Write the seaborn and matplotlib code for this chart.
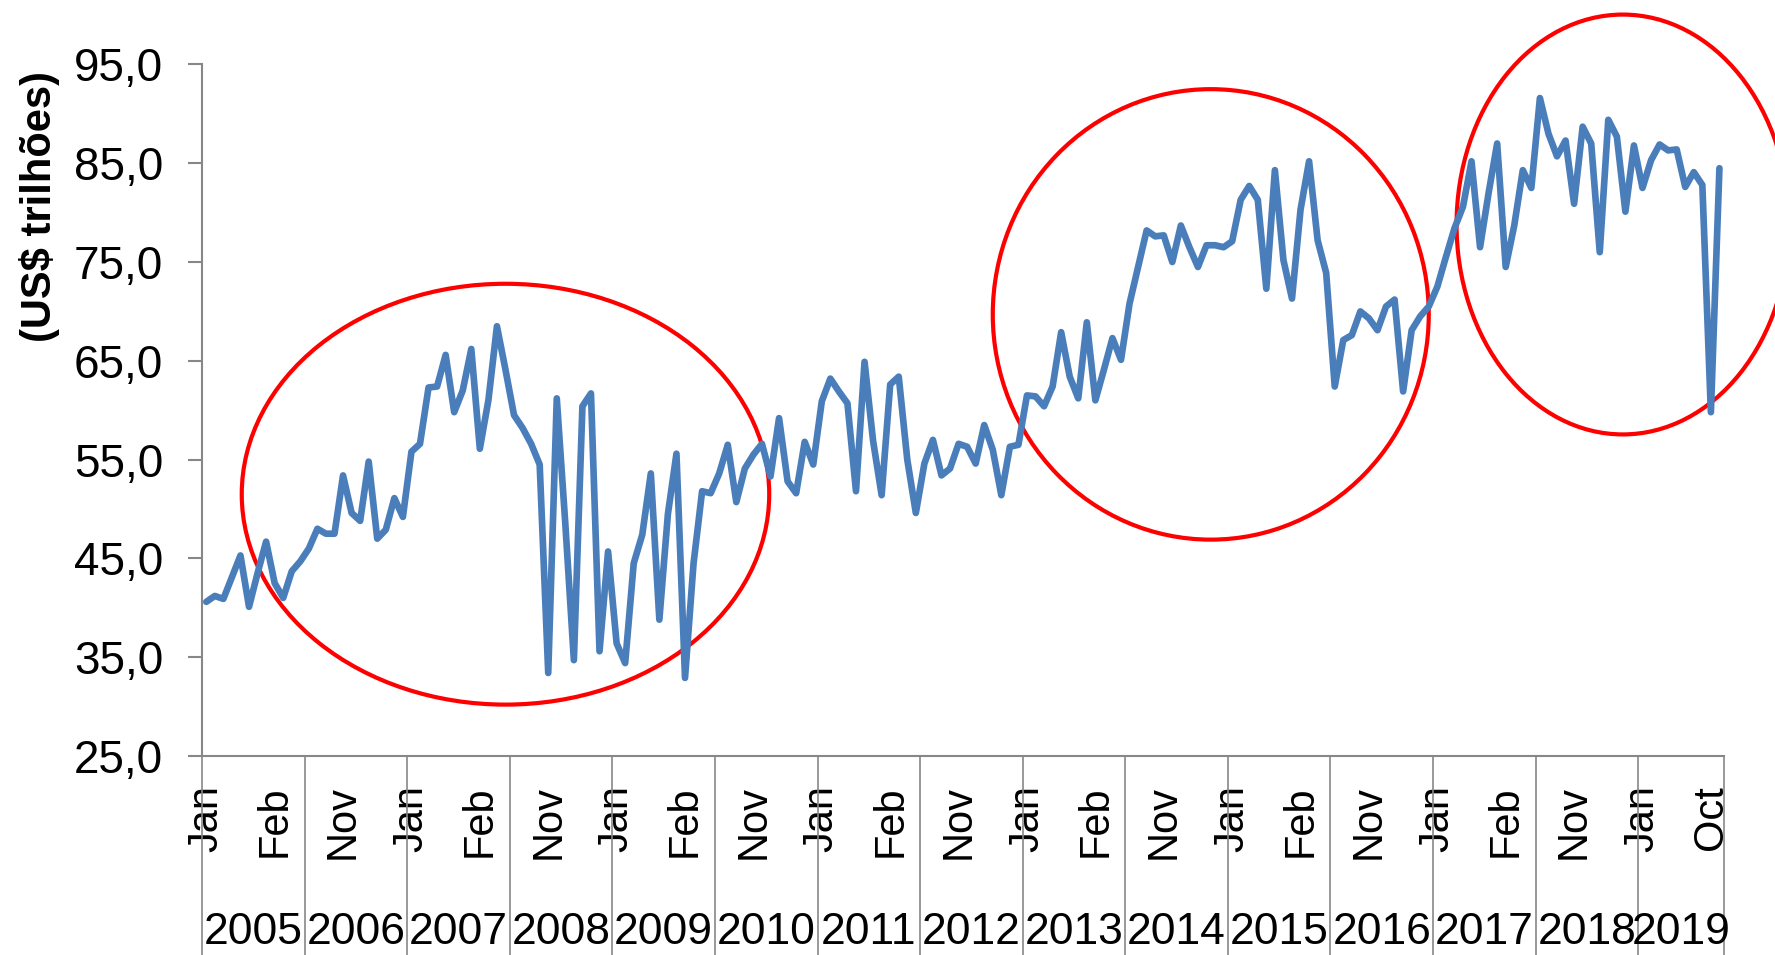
import numpy as np
import pandas as pd
import matplotlib
matplotlib.use("Agg")
import matplotlib.pyplot as plt
from matplotlib.patches import Ellipse
import seaborn as sns

# ─────────────────────────────────────────────
# DATA (monthly, Jan 2005 .. Oct 2019)
# ─────────────────────────────────────────────
values = [
    40.6, 41.2, 40.9, 43.1, 45.3, 40.1, 43.5, 46.7, 42.5, 41.0, 43.7, 44.7,   # 2005
    46.0, 48.0, 47.5, 47.5, 53.4, 49.6, 48.8, 54.8, 47.0, 47.9, 51.1, 49.2,   # 2006
    55.8, 56.6, 62.3, 62.4, 65.6, 59.8, 62.0, 66.2, 56.1, 61.0, 68.5, 64.1,   # 2007
    59.5, 58.2, 56.6, 54.5, 33.4, 61.2, 48.5, 34.7, 60.4, 61.7, 35.6, 45.7,   # 2008
    36.4, 34.4, 44.5, 47.4, 53.6, 38.8, 49.5, 55.6, 32.9, 44.5, 51.8, 51.6,   # 2009
    53.6, 56.5, 50.7, 54.1, 55.5, 56.6, 53.3, 59.2, 52.8, 51.6, 56.8, 54.5,   # 2010
    60.9, 63.2, 61.9, 60.7, 51.8, 64.9, 56.9, 51.4, 62.6, 63.4, 55.0, 49.6,   # 2011
    54.6, 57.0, 53.4, 54.1, 56.6, 56.3, 54.6, 58.5, 56.0, 51.4, 56.3, 56.5,   # 2012
    61.5, 61.4, 60.4, 62.4, 67.9, 63.4, 61.2, 68.9, 61.0, 64.1, 67.3, 65.1,   # 2013
    70.8, 74.5, 78.2, 77.6, 77.7, 75.0, 78.7, 76.5, 74.5, 76.7, 76.7, 76.5,   # 2014
    77.1, 81.3, 82.7, 81.3, 72.3, 84.3, 75.2, 71.3, 80.3, 85.2, 77.2, 73.9,   # 2015
    62.4, 67.1, 67.6, 70.0, 69.3, 68.1, 70.5, 71.2, 61.9, 68.1, 69.5, 70.5,   # 2016
    72.5, 75.5, 78.4, 80.6, 85.2, 76.5, 82.0, 87.0, 74.5, 78.7, 84.3, 82.5,   # 2017
    91.6, 88.0, 85.7, 87.3, 80.9, 88.7, 87.0, 76.0, 89.4, 87.7, 80.1, 86.8,   # 2018
    82.5, 85.3, 86.9, 86.3, 86.4, 82.6, 84.1, 82.8, 59.8, 84.5,               # 2019
]
years = [str(y) for y in range(2005, 2020)]
months_per_year = [12] * 14 + [10]

# month labels as shown on the axis (every 8th category + last one)
month_tick_pos = list(range(0, 169, 8)) + [176]
month_tick_labels = ["Jan", "Feb", "Nov"] * 7 + ["Jan", "Oct"]

y_ticks = [25, 35, 45, 55, 65, 75, 85, 95]
y_tick_labels = [f"{v:.1f}".replace(".", ",") for v in y_ticks]
y_label = "(US$ trilhões)"

# highlighted periods (center month, center value, width in months, height in value)
ellipses = [
    (35.0, 51.5, 61.7, 42.6),
    (117.5, 69.7, 51.0, 45.6),
    (165.7, 78.8, 38.9, 42.5),
]

# ─────────────────────────────────────────────
# PLOT
# ─────────────────────────────────────────────
sns.set_theme(style="white")
plt.rcParams["font.family"] = ["Liberation Sans", "DejaVu Sans"]
plt.rcParams["text.color"] = "black"
plt.rcParams["xtick.labelcolor"] = "black"
plt.rcParams["ytick.labelcolor"] = "black"

df = pd.DataFrame({"idx": np.arange(len(values)), "value": values})

fig = plt.figure(figsize=(17.75, 9.55), dpi=100)
ax = fig.add_axes([0.1138, 0.2084, 0.8573, 0.7241])

sns.lineplot(data=df, x="idx", y="value", ax=ax, color="#4A7EBB",
             linewidth=4.8, solid_joinstyle="round", solid_capstyle="round")

ax.set_xlim(-0.5, len(values) - 0.5)
ax.set_ylim(25, 95)

gray = "#878787"
for s in ["top", "right"]:
    ax.spines[s].set_visible(False)
for s in ["left", "bottom"]:
    ax.spines[s].set_color(gray)
    ax.spines[s].set_linewidth(1.5)

ax.set_yticks(y_ticks)
ax.set_yticklabels(y_tick_labels, fontsize=33, color="black")
ax.tick_params(axis="y", direction="out", length=10, width=1.5, color=gray, pad=18, left=True)

ax.set_xticks(month_tick_pos)
ax.set_xticklabels(month_tick_labels, rotation=90, fontsize=30, va="top", color="black")
ax.tick_params(axis="x", length=0, pad=21)

ax.set_xlabel("")
ax.set_ylabel("")

# year separators and year labels below the month labels
trans = ax.get_xaxis_transform()
start = 0
bounds = [-0.5]
for yr, n in zip(years, months_per_year):
    mid = start + (n - 1) / 2
    ax.text(mid, -0.255, yr, transform=trans, ha="center", va="center",
            fontsize=32, color="black")
    start += n
    bounds.append(start - 0.5)
for b in bounds:
    ax.plot([b, b], [0, -0.30], transform=trans, color=gray, linewidth=1.2, clip_on=False)

fig.text(0.0225, 0.784, y_label, rotation=90, ha="center", va="center",
         fontsize=30, fontweight="bold", color="black")

for cx, cy, w, h in ellipses:
    ax.add_patch(Ellipse((cx, cy), w, h, fill=False, edgecolor="#FF0000",
                         linewidth=3.0, clip_on=False))

fig.savefig("out.png", dpi=100)
